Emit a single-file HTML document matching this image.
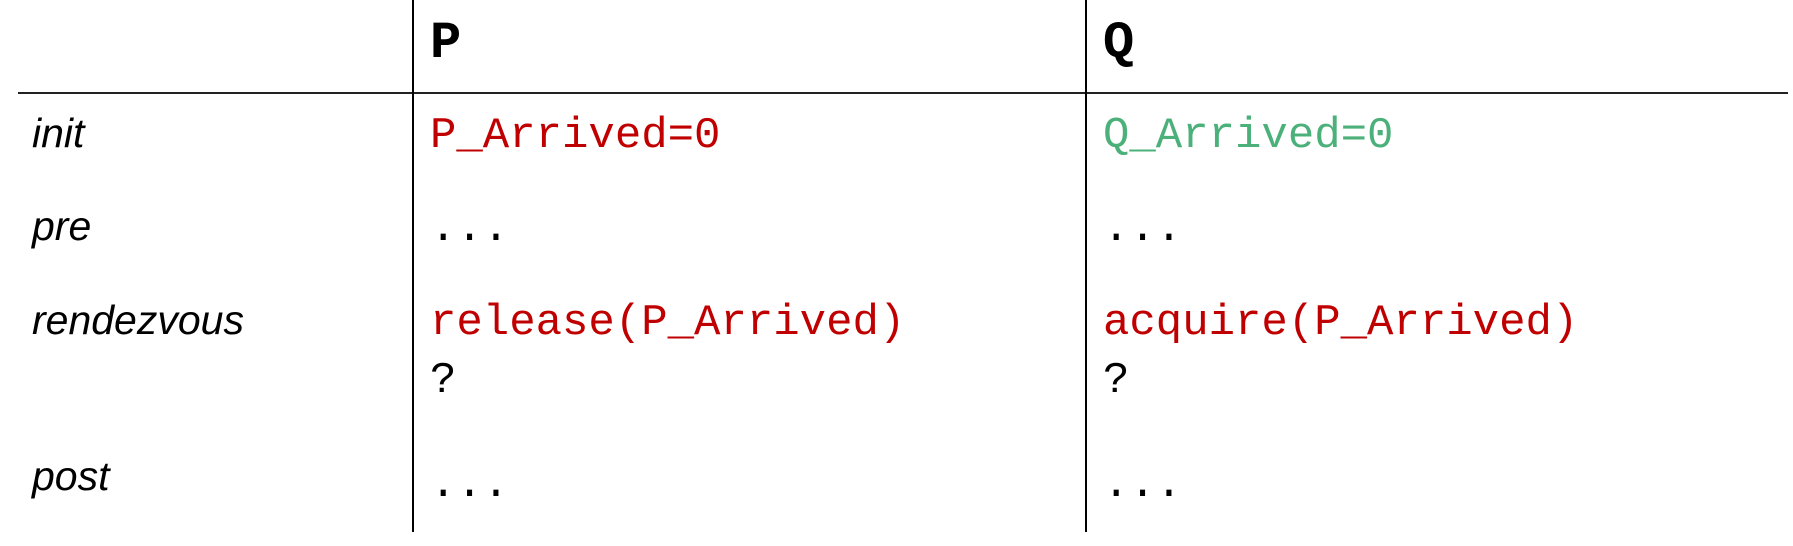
<!DOCTYPE html>
<html><head><style>
html,body{margin:0;padding:0;background:#fff;}
svg{display:block;}
.l{font-family:"Liberation Sans",sans-serif;font-style:italic;font-size:41px;fill:#000;}
.c{font-family:"Liberation Mono",monospace;font-size:44px;}
.h{font-family:"Liberation Mono",monospace;font-size:52px;font-weight:bold;fill:#000;}
</style></head><body>
<svg width="1793" height="546" xmlns="http://www.w3.org/2000/svg">
<line x1="18" y1="93" x2="1788" y2="93" stroke="#222" stroke-width="2"/>
<line x1="413" y1="0" x2="413" y2="532" stroke="#000" stroke-width="2"/>
<line x1="1086" y1="0" x2="1086" y2="532" stroke="#000" stroke-width="2"/>
<text class="h" x="430" y="57">P</text>
<text class="h" x="1103" y="57">Q</text>
<text class="l" x="32" y="147">init</text>
<text class="l" x="32" y="240">pre</text>
<text class="l" x="32" y="334">rendezvous</text>
<text class="l" x="32" y="490">post</text>
<text class="c" x="430" y="147" fill="#C00000">P_Arrived=0</text>
<text class="c" x="1103" y="147" fill="#4CB07A">Q_Arrived=0</text>
<text class="c" x="430" y="240" fill="#000">...</text>
<text class="c" x="1103" y="240" fill="#000">...</text>
<text class="c" x="430" y="334" fill="#C00000">release(P_Arrived)</text>
<text class="c" x="1103" y="334" fill="#C00000">acquire(P_Arrived)</text>
<text class="c" x="430" y="392" fill="#000">?</text>
<text class="c" x="1103" y="392" fill="#000">?</text>
<text class="c" x="430" y="496" fill="#000">...</text>
<text class="c" x="1103" y="496" fill="#000">...</text>
</svg>
</body></html>
